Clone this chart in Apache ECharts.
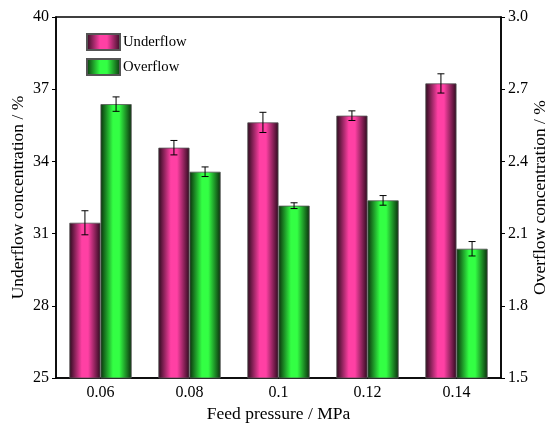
<!DOCTYPE html>
<html>
<head>
<meta charset="utf-8">
<script src="https://cdn.jsdelivr.net/npm/echarts@6/dist/echarts.min.js"></script>
<style>html,body{margin:0;padding:0;background:#fff;}#c{width:549px;height:425px;}</style>
</head>
<body>
<div id="c"></div>
<script>
const categories = ['0.06', '0.08', '0.1', '0.12', '0.14'];
const underflow = [31.45, 34.57, 35.62, 35.9, 37.24];
const underflowErr = [0.5, 0.3, 0.42, 0.2, 0.4];
const overflow = [2.638, 2.357, 2.216, 2.238, 2.037];
const overflowErr = [0.03, 0.02, 0.012, 0.02, 0.03];
const leftTicks = [25, 28, 31, 34, 37, 40];
const rightTicks = [1.5, 1.8, 2.1, 2.4, 2.7, 3.0];

const FONT = 'Liberation Serif';
const chart = echarts.init(document.getElementById('c'));

function grad(dark, bright, dark2) {
  return new echarts.graphic.LinearGradient(0, 0, 1, 0, [
    {offset: 0, color: dark},
    {offset: 0.4, color: bright},
    {offset: 0.6, color: bright},
    {offset: 1, color: dark2}
  ]);
}
const pinkGrad = grad('#2a0a1c', '#ff40a4', '#2e0a1e');
const greenGrad = grad('#0a300c', '#33ff44', '#0a2e0c');

function errSeries(vals, errs, axisIdx, offsetFrac) {
  return {
    type: 'custom',
    yAxisIndex: axisIdx,
    z: 10,
    silent: true,
    data: vals.map((v, i) => [i, v - errs[i], v + errs[i]]),
    renderItem: function (params, api) {
      const band = api.size([1, 0])[0];
      const lo = api.coord([api.value(0), api.value(1)]);
      const hi = api.coord([api.value(0), api.value(2)]);
      const x = lo[0] + band * offsetFrac;
      const cw = 3.5;
      const st = {stroke: '#000', lineWidth: 1};
      return {
        type: 'group',
        children: [
          {type: 'line', shape: {x1: x, y1: lo[1], x2: x, y2: hi[1]}, style: st},
          {type: 'line', shape: {x1: x - cw, y1: lo[1], x2: x + cw, y2: lo[1]}, style: st},
          {type: 'line', shape: {x1: x - cw, y1: hi[1], x2: x + cw, y2: hi[1]}, style: st}
        ]
      };
    }
  };
}

const axisLineStyle = {color: '#000', width: 1.5};

chart.setOption({
  animation: false,
  backgroundColor: '#fff',
  textStyle: {fontFamily: FONT},
  grid: {left: 56, right: 48, top: 17, bottom: 47, outerBoundsMode: 'none', containLabel: false,
    show: true, borderColor: '#000', borderWidth: 1.5, backgroundColor: 'transparent'},
  legend: {
    orient: 'vertical', left: 86, top: 33, itemWidth: 33, itemHeight: 16, itemGap: 7,
    padding: 0,
    icon: 'rect',
    textStyle: {fontFamily: FONT, fontSize: 14.7, color: '#000', padding: [0, 0, 0, -2]},
    data: ['Underflow', 'Overflow']
  },
  xAxis: {
    type: 'category', data: categories,
    axisLine: {lineStyle: axisLineStyle},
    axisTick: {show: false},
    axisLabel: {fontFamily: FONT, fontSize: 16, color: '#000', margin: 7},
    name: 'Feed pressure / MPa', nameLocation: 'middle', nameGap: 25,
    nameTextStyle: {fontFamily: FONT, fontSize: 17.5, color: '#000'}
  },
  yAxis: [
    {
      type: 'value', min: 25, max: 40, interval: 3,
      axisLine: {show: true, lineStyle: axisLineStyle},
      axisTick: {show: true, length: 4, lineStyle: {color: '#000'}},
      splitLine: {show: false},
      axisLabel: {fontFamily: FONT, fontSize: 16, color: '#000', margin: 7,
        formatter: v => leftTicks.includes(v) ? String(v) : ''},
      name: 'Underflow concentration / %', nameLocation: 'middle', nameGap: 29, nameMoveOverlap: false,
      nameTextStyle: {fontFamily: FONT, fontSize: 17.5, color: '#000'}
    },
    {
      type: 'value', min: 1.5, max: 3.0, interval: 0.3,
      axisLine: {show: true, lineStyle: axisLineStyle},
      axisTick: {show: true, length: 4, lineStyle: {color: '#000'}},
      splitLine: {show: false},
      axisLabel: {fontFamily: FONT, fontSize: 16, color: '#000', margin: 7,
        formatter: v => { const t = rightTicks.find(r => Math.abs(r - v) < 1e-6); return t !== undefined ? t.toFixed(1) : ''; }},
      name: 'Overflow concentration / %', nameLocation: 'middle', nameGap: 30, nameRotate: 90, nameMoveOverlap: false,
      nameTextStyle: {fontFamily: FONT, fontSize: 17.5, color: '#000'}
    }
  ],
  series: [
    {
      name: 'Underflow', type: 'bar', yAxisIndex: 0, data: underflow,
      barGap: '0%', barCategoryGap: '30%',
      itemStyle: {color: pinkGrad, borderColor: '#555', borderWidth: 0.8, borderRadius: 0}
    },
    {
      name: 'Overflow', type: 'bar', yAxisIndex: 1, data: overflow,
      barGap: '0%', barCategoryGap: '30%',
      itemStyle: {color: greenGrad, borderColor: '#555', borderWidth: 0.8, borderRadius: 0}
    },
    errSeries(underflow, underflowErr, 0, -0.175),
    errSeries(overflow, overflowErr, 1, 0.175)
  ]
});
</script>
</body>
</html>
